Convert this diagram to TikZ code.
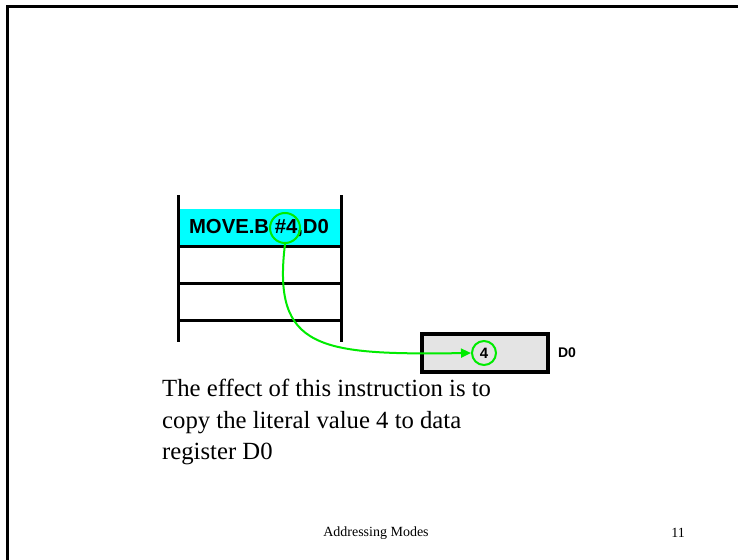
\documentclass[tikz,border=0pt]{standalone}
\usepackage{fontspec}
\setmainfont{Liberation Serif}
\setsansfont{Liberation Sans}
\usetikzlibrary{arrows.meta}
\definecolor{litgreen}{RGB}{0,235,0}
\definecolor{instrcyan}{RGB}{0,255,255}
\definecolor{reggray}{RGB}{228,228,228}
\tikzset{
  rule/.style={line width=3pt, black},
  memline/.style={line width=3pt, black},
  ring/.style={draw=litgreen, line width=2pt, circle, inner sep=0pt},
  flow/.style={draw=litgreen, line width=2pt, -{Triangle[length=10pt,width=9pt]}},
}
\begin{document}
\begin{tikzpicture}[x=1pt,y=-1pt]
  \useasboundingbox (0,0) rectangle (738,559);
  % slide frame
  \coordinate (fbl) at (7,562);
  \coordinate (ftl) at (7,7);
  \coordinate (ftr) at (742,7);
  \draw[rule] (fbl) -- (ftl) -- (ftr);

  % memory column
  \fill[instrcyan] (178,209) rectangle (341,246);
  \node[font=\sffamily\bfseries\fontsize{20.3}{24}\selectfont] (instr) at (259,228) {MOVE.B \#4,D0};
  \foreach \yy in {246,283,320}
    \draw[memline] (178,\yy) -- (341,\yy);
  \draw[memline] (178,195) -- (178,342);
  \draw[memline] (341,195) -- (341,342);

  % literal operand marker
  \node[ring, minimum size=30pt] (lit) at (285,228) {};

  % data register D0
  \node[draw=black, line width=3.2pt, fill=reggray, minimum width=126pt, minimum height=38pt, inner sep=0pt] (reg) at (485,353) {};
  \node[ring, minimum size=24pt, font=\sffamily\bfseries\fontsize{15}{18}\selectfont] (val) at (484,353) {4};
  \node[font=\sffamily\bfseries\fontsize{14}{17}\selectfont] (regname) at (567,353) {D0};

  % transfer of the literal
  \draw[flow] (lit.south) .. controls (272,350) and (320,355) .. (val.west);

  % explanation
  \node[anchor=north west, align=left, inner sep=0pt, font=\fontsize{24.7}{31.5}\selectfont] (caption) at (162,379)
    {The effect of this instruction is to\\copy the literal value 4 to data\\register D0};

  % footer
  \node[font=\fontsize{14}{17}\selectfont] (footer) at (376,533) {Addressing Modes};
  \node[font=\fontsize{14}{17}\selectfont] (pageno) at (678,533) {11};
\end{tikzpicture}
\end{document}
